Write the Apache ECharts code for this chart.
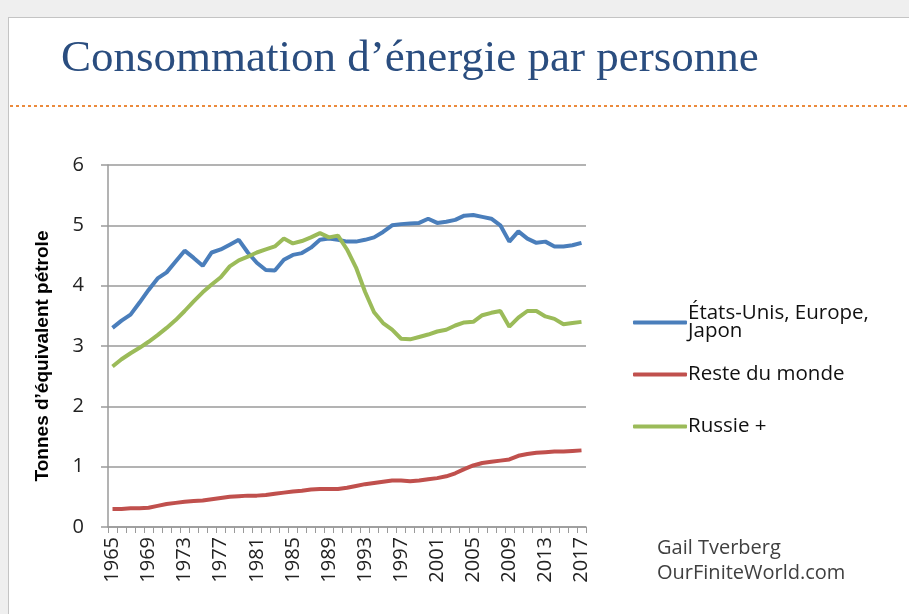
<!DOCTYPE html>
<html lang="fr">
<head>
    <meta charset="UTF-8">
    <title>Consommation d'énergie par personne</title>
    <style>
        html, body {margin: 0; padding: 0; background: #efefef;}
        #slide {position: absolute; left: 8px; top: 17px; width: 905px; height: 600px;
                background: #fff; border: 1px solid #c4c4c4;}
        #main {position: absolute; left: 0; top: 0; width: 909px; height: 614px;}
    </style>
</head>
<body>
<div id="slide"></div>
<div id="main"></div>
<script src="https://cdn.jsdelivr.net/npm/echarts@6/dist/echarts.min.js"></script>
<script>
    // années 1965 -> 2017
    const years = []
    for (let y = 1965; y <= 2017; y++) years.push(String(y))

    const yTicks = [0, 1, 2, 3, 4, 5, 6]

    const seriesNames = ['États-Unis, Europe, Japon', 'Reste du monde', 'Russie +']

    // tonnes d'équivalent pétrole par personne
    const usEuJapon = [
        3.30, 3.42, 3.52, 3.72, 3.93, 4.12, 4.22, 4.40, 4.58, 4.46,
        4.33, 4.55, 4.60, 4.68, 4.76, 4.55, 4.38, 4.26, 4.25, 4.43,
        4.51, 4.54, 4.63, 4.76, 4.78, 4.76, 4.73, 4.73, 4.76, 4.80,
        4.89, 5.00, 5.02, 5.03, 5.04, 5.11, 5.04, 5.06, 5.09, 5.16,
        5.17, 5.14, 5.11, 5.00, 4.73, 4.90, 4.78, 4.71, 4.73, 4.65,
        4.65, 4.67, 4.71
    ]
    const resteMonde = [
        0.30, 0.30, 0.31, 0.31, 0.32, 0.35, 0.38, 0.40, 0.42, 0.43,
        0.44, 0.46, 0.48, 0.50, 0.51, 0.52, 0.52, 0.53, 0.55, 0.57,
        0.59, 0.60, 0.62, 0.63, 0.63, 0.63, 0.65, 0.68, 0.71, 0.73,
        0.75, 0.77, 0.77, 0.76, 0.77, 0.79, 0.81, 0.84, 0.89, 0.96,
        1.02, 1.06, 1.08, 1.10, 1.12, 1.18, 1.21, 1.23, 1.24, 1.25,
        1.25, 1.26, 1.27
    ]
    const russie = [
        2.66, 2.78, 2.88, 2.97, 3.07, 3.18, 3.30, 3.43, 3.58, 3.74,
        3.89, 4.02, 4.14, 4.32, 4.42, 4.48, 4.55, 4.60, 4.65, 4.78,
        4.70, 4.74, 4.80, 4.87, 4.80, 4.83, 4.60, 4.30, 3.90, 3.56,
        3.38, 3.27, 3.12, 3.11, 3.15, 3.19, 3.24, 3.27, 3.34, 3.39,
        3.40, 3.51, 3.55, 3.58, 3.32, 3.47, 3.58, 3.58, 3.49, 3.45,
        3.36, 3.38, 3.40
    ]

    const colors = ['#4a7ebb', '#c0504d', '#9bbb59']
    const gridColor = '#9a9a9a'

    let chart = echarts.init(document.getElementById('main'), null, {renderer: 'canvas'})

    function legendFor(name, top) {
        return {
            data: [name],
            left: 628,
            top: top,
            icon: 'roundRect',
            itemWidth: 54,
            itemHeight: 4,
            selectedMode: false,
            formatter: n => n.replace('Europe, ', 'Europe,\n'),
            textStyle: {
                fontFamily: 'Open Sans',
                fontSize: 20.5,
                lineHeight: 18,
                color: '#111',
                padding: [0, 0, 0, -4]
            }
        }
    }

    let option = {
        backgroundColor: 'transparent',
        animation: false,
        title: {
            text: 'Consommation d\u2019énergie par personne',
            left: 56,
            top: 32,
            textStyle: {
                fontFamily: 'Liberation Serif',
                fontWeight: 'normal',
                fontSize: 45,
                color: '#2a4d7f'
            }
        },
        graphic: [
            {
                type: 'line',
                shape: {x1: 10, y1: 106, x2: 909, y2: 106},
                style: {stroke: '#eb8a3c', lineWidth: 2, lineDash: [3, 3]}
            },
            {
                type: 'text',
                left: 657,
                top: 536,
                style: {
                    text: 'Gail Tverberg\nOurFiniteWorld.com',
                    font: '20px "Open Sans"',
                    lineHeight: 25,
                    fill: '#404040'
                }
            }
        ],
        legend: [
            legendFor(seriesNames[0], 298),
            legendFor(seriesNames[1], 359),
            legendFor(seriesNames[2], 411)
        ],
        grid: {
            left: 108,
            right: 323,
            top: 165,
            bottom: 87
        },
        xAxis: {
            type: 'category',
            data: years,
            boundaryGap: true,
            axisLine: {lineStyle: {color: gridColor, width: 1.5}},
            axisTick: {show: true, interval: 0, length: 6, lineStyle: {color: gridColor}},
            axisLabel: {
                interval: 3,
                rotate: 90,
                margin: 10,
                fontFamily: 'Open Sans',
                fontSize: 20,
                color: '#222'
            }
        },
        yAxis: {
            type: 'value',
            min: yTicks[0],
            max: yTicks[yTicks.length - 1],
            interval: 1,
            name: 'Tonnes d\u2019équivalent pétrole',
            nameLocation: 'middle',
            nameGap: 56,
            nameTextStyle: {
                fontFamily: 'Liberation Sans',
                fontWeight: 'bold',
                fontSize: 19,
                color: '#000',
                padding: [0, 20, 0, 0]
            },
            axisLine: {show: true, lineStyle: {color: gridColor, width: 1.5}},
            axisTick: {show: true, length: 7, lineStyle: {color: gridColor, width: 1.5}},
            splitLine: {lineStyle: {color: gridColor, width: 1.5}},
            axisLabel: {
                margin: 24,
                fontFamily: 'Open Sans',
                fontSize: 20,
                color: '#222'
            }
        },
        series: [
            {name: seriesNames[0], type: 'line', data: usEuJapon},
            {name: seriesNames[1], type: 'line', data: resteMonde},
            {name: seriesNames[2], type: 'line', data: russie}
        ].map((s, i) => Object.assign(s, {
            showSymbol: false,
            symbol: 'none',
            lineStyle: {width: 4, color: colors[i]},
            itemStyle: {color: colors[i]}
        }))
    }
    chart.setOption(option)
</script>
</body>
</html>
